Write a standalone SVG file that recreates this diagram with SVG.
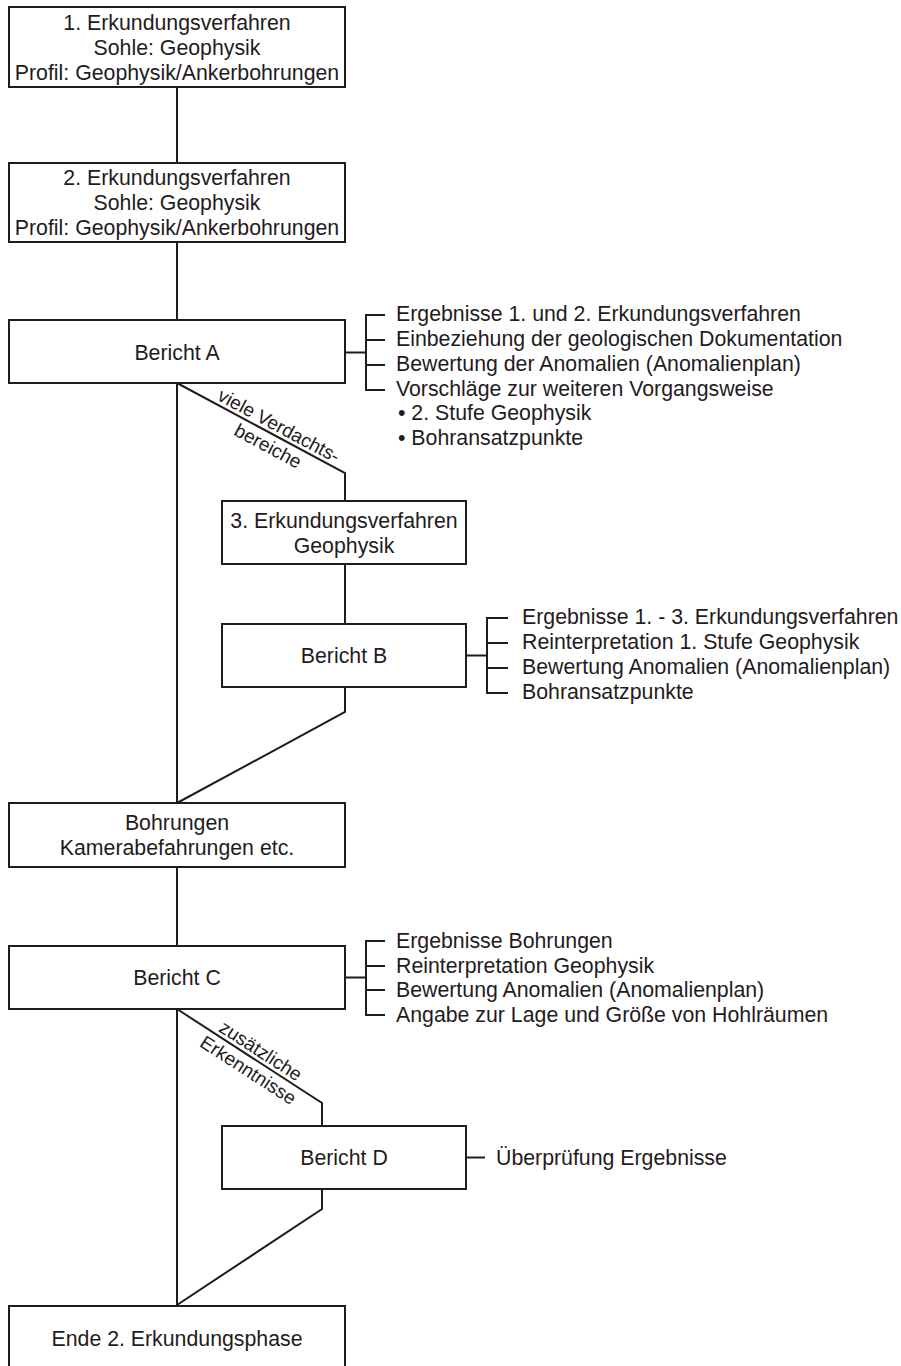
<svg xmlns="http://www.w3.org/2000/svg" width="901" height="1366" viewBox="0 0 901 1366">
<style>
.box{fill:#fff;stroke:#1f1c1d;stroke-width:2}
.ln{fill:none;stroke:#1f1c1d;stroke-width:2}
text{font-family:"Liberation Sans",Arial,Helvetica,sans-serif;font-size:21.3px;fill:#1f1c1d}
.c{text-anchor:middle}
.d{font-size:19px;text-anchor:middle}
</style>
<rect width="901" height="1366" fill="#fff"/>
<g id="connectors">
<path class="ln" d="M177 87V163M177 242V320M177 383V803M177 383L345 473V501M345 564V624M345 687V712L177 803M177 867V946M177 1009V1306M177 1009L322 1103V1126M322 1189V1209L177 1305"/>
<path class="ln" d="M345 352.5H366M385 315H366V390H385M366 340H385M366 365H385"/>
<path class="ln" d="M466 655.5H487M508 618H487V693H508M487 643H508M487 668H508"/>
<path class="ln" d="M345 977.5H366M385 941H366V1015H385M366 966H385M366 990H385"/>
<path class="ln" d="M466 1157.5H485"/>
<g transform="translate(177 383) rotate(28.18)">
<text class="d" x="110" y="-4">viele Verdachts-</text>
<text class="d" x="110" y="19">bereiche</text>
</g>
<g transform="translate(177 1009) rotate(32.96)">
<text class="d" x="93" y="-4">zusätzliche</text>
<text class="d" x="93" y="19">Erkenntnisse</text>
</g>
</g>
<g id="n1">
<rect class="box" x="9" y="7" width="336" height="80"/>
<text class="c" x="177" y="30">1. Erkundungsverfahren</text>
<text class="c" x="177" y="55">Sohle: Geophysik</text>
<text class="c" x="177" y="80">Profil: Geophysik/Ankerbohrungen</text>
</g>
<g id="n2">
<rect class="box" x="9" y="163" width="336" height="79"/>
<text class="c" x="177" y="185">2. Erkundungsverfahren</text>
<text class="c" x="177" y="210">Sohle: Geophysik</text>
<text class="c" x="177" y="235">Profil: Geophysik/Ankerbohrungen</text>
</g>
<g id="berichtA">
<rect class="box" x="9" y="320" width="336" height="63"/>
<text class="c" x="177" y="359.5">Bericht A</text>
</g>
<g id="listA">
<text x="396" y="321">Ergebnisse 1. und 2. Erkundungsverfahren</text>
<text x="396" y="346">Einbeziehung der geologischen Dokumentation</text>
<text x="396" y="371">Bewertung der Anomalien (Anomalienplan)</text>
<text x="396" y="396">Vorschläge zur weiteren Vorgangsweise</text>
<text x="398" y="420">• 2. Stufe Geophysik</text>
<text x="398" y="445">• Bohransatzpunkte</text>
</g>
<g id="n3">
<rect class="box" x="222" y="501" width="244" height="63"/>
<text class="c" x="344" y="527.5">3. Erkundungsverfahren</text>
<text class="c" x="344" y="552.5">Geophysik</text>
</g>
<g id="berichtB">
<rect class="box" x="222" y="624" width="244" height="63"/>
<text class="c" x="344" y="663">Bericht B</text>
</g>
<g id="listB">
<text x="522" y="624">Ergebnisse 1. - 3. Erkundungsverfahren</text>
<text x="522" y="649">Reinterpretation 1. Stufe Geophysik</text>
<text x="522" y="674">Bewertung Anomalien (Anomalienplan)</text>
<text x="522" y="699">Bohransatzpunkte</text>
</g>
<g id="bohrungen">
<rect class="box" x="9" y="803" width="336" height="64"/>
<text class="c" x="177" y="830">Bohrungen</text>
<text class="c" x="177" y="855">Kamerabefahrungen etc.</text>
</g>
<g id="berichtC">
<rect class="box" x="9" y="946" width="336" height="63"/>
<text class="c" x="177" y="985">Bericht C</text>
</g>
<g id="listC">
<text x="396" y="948">Ergebnisse Bohrungen</text>
<text x="396" y="973">Reinterpretation Geophysik</text>
<text x="396" y="997">Bewertung Anomalien (Anomalienplan)</text>
<text x="396" y="1022">Angabe zur Lage und Größe von Hohlräumen</text>
</g>
<g id="berichtD">
<rect class="box" x="222" y="1126" width="244" height="63"/>
<text class="c" x="344" y="1165">Bericht D</text>
</g>
<g id="listD">
<text x="496" y="1165">Überprüfung Ergebnisse</text>
</g>
<g id="ende">
<rect class="box" x="9" y="1306" width="336" height="66"/>
<text class="c" x="177" y="1346">Ende 2. Erkundungsphase</text>
</g>
</svg>
